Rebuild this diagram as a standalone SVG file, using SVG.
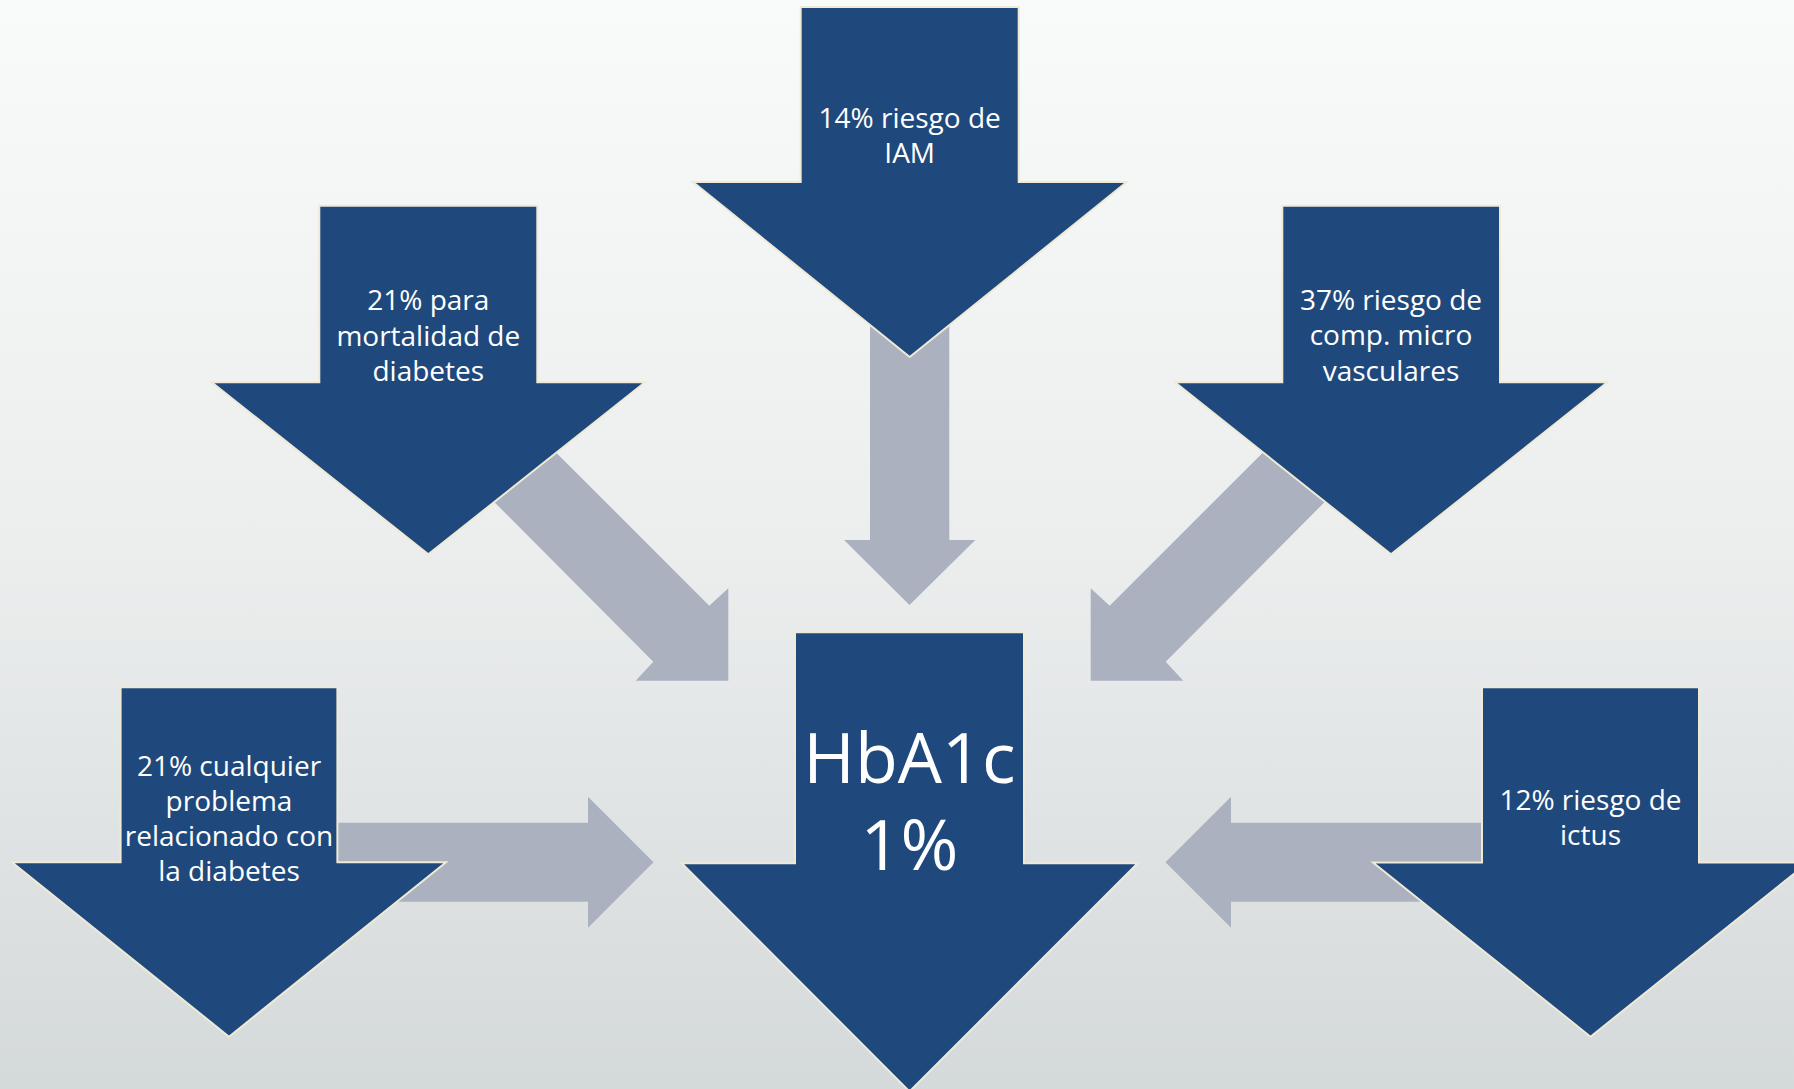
<svg xmlns="http://www.w3.org/2000/svg" width="1794" height="1089" viewBox="0 0 1794 1089">
  <defs>
    <linearGradient id="bg" x1="0" y1="0" x2="0" y2="1">
      <stop offset="0" stop-color="#f9fafa"/>
      <stop offset="0.5" stop-color="#eceeee"/>
      <stop offset="1" stop-color="#d4d9da"/>
    </linearGradient>
  </defs>
  <style>
    .blue { fill: #1f497d; stroke: #efe9d6; stroke-width: 2; stroke-linejoin: miter; }
    .gray { fill: #acb1bf; }
    .lbl { font-family: "Open Sans", "Liberation Sans", sans-serif; font-size: 28px; fill: #ffffff; text-anchor: middle; }
    .big { font-family: "Open Sans", "Liberation Sans", sans-serif; font-size: 70px; fill: #ffffff; text-anchor: middle; }
  </style>
  <rect x="0" y="0" width="1794" height="1089" fill="url(#bg)"/>

  <g id="connectors">
    <polygon class="gray" points="870,300 949.3,300 949.3,540 975.3,540 909.5,605 844,540 870,540"/>
    <polygon class="gray" points="516,412.4 709.3,605.7 728.3,588.3 728.3,680.7 635.7,680.7 653.3,661.7 460.4,468"/>
    <polygon class="gray" points="1303,412.4 1109.7,605.7 1090.7,588.3 1090.7,680.7 1183.3,680.7 1165.7,661.7 1358.6,468"/>
    <polygon class="gray" points="300,822.7 588,822.7 588,796.7 653.5,862.2 588,927.7 588,901.7 300,901.7"/>
    <polygon class="gray" points="1519,822.7 1231,822.7 1231,796.7 1165.5,862.2 1231,927.7 1231,901.7 1519,901.7"/>
  </g>

  <g id="node-iam">
    <polygon class="blue" points="800.7,7 1018.7,7 1018.7,182 1126.7,182 909.7,357 693,182 800.7,182"/>
    <text class="lbl" x="909.7" y="128">14% riesgo de</text>
    <text class="lbl" x="909.7" y="163">IAM</text>
  </g>

  <g id="node-mortalidad">
    <polygon class="blue" points="319.3,205.7 537.3,205.7 537.3,382.3 645,382.3 428.3,554.3 211.7,382.3 319.3,382.3"/>
    <text class="lbl" x="428.3" y="310">21% para</text>
    <text class="lbl" x="428.3" y="345.5">mortalidad de</text>
    <text class="lbl" x="428.3" y="381">diabetes</text>
  </g>

  <g id="node-micro">
    <polygon class="blue" points="1282.3,205.7 1500,205.7 1500,382.3 1607.3,382.3 1391,554.3 1175,382.3 1282.3,382.3"/>
    <text class="lbl" x="1391" y="309.5">37% riesgo de</text>
    <text class="lbl" x="1391" y="345">comp. micro</text>
    <text class="lbl" x="1391" y="380.5">vasculares</text>
  </g>

  <g id="node-cualquier">
    <polygon class="blue" points="120.6,687.3 337.4,687.3 337.4,862.3 446,862.3 229,1036.7 12,862.3 120.6,862.3"/>
    <text class="lbl" x="229" y="775.5">21% cualquier</text>
    <text class="lbl" x="229" y="810.5">problema</text>
    <text class="lbl" x="229" y="845.5">relacionado con</text>
    <text class="lbl" x="229" y="880.5">la diabetes</text>
  </g>

  <g id="node-ictus">
    <polygon class="blue" points="1482,687.3 1699,687.3 1699,862.5 1808,862.5 1590.5,1036.7 1373,862.5 1482,862.5"/>
    <text class="lbl" x="1590.5" y="810">12% riesgo de</text>
    <text class="lbl" x="1590.5" y="845">ictus</text>
  </g>

  <g id="node-hba1c">
    <polygon class="blue" points="795,632.3 1024,632.3 1024,863.3 1137.7,863.3 909.5,1091.5 681.7,863.3 795,863.3"/>
    <text class="big" x="909.5" y="783">HbA1c</text>
    <text class="big" x="909.5" y="870">1%</text>
  </g>
</svg>
